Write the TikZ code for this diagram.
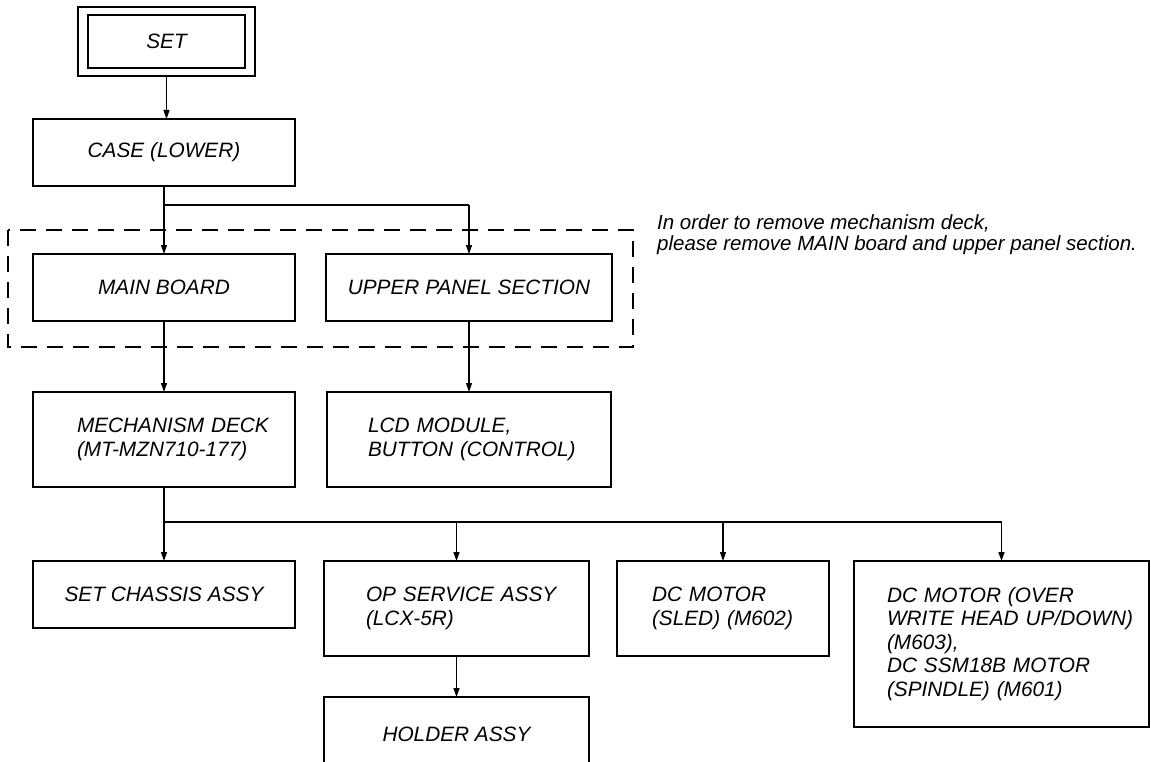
\documentclass[tikz,border=0pt]{standalone}
\usepackage{fontspec}
\setmainfont{Liberation Sans}
\usetikzlibrary{arrows.meta}
\begin{document}
\begin{tikzpicture}[x=1pt,y=-1pt,
  box/.style={draw, line width=1.2pt, rectangle, inner sep=0pt, outer sep=0pt,
    font=\fontsize{20.8}{23.5}\selectfont\itshape},
  cbox/.style 2 args={box, minimum width=#1, minimum height=#2},
  lbox/.style 2 args={box, text width=#1, minimum height=#2, align=left},
  arr/.style={line width=1.2pt, -{Triangle[length=9pt,width=6pt]}},
  trunk/.style={line width=1.8pt},
  frame/.style={line width=1.3pt, dash pattern=on 16pt off 10pt}]
\useasboundingbox (0,0) rectangle (1151,762);
\clip (0,0) rectangle (1151,762);
\fill[white] (0,0) rectangle (1151,762);

% boxes
\node[cbox={157pt}{53pt}] (set) at (166.5,41.5) {SET};
\draw[line width=1.2pt] ([shift={(-10,-8)}]set.north west) rectangle ([shift={(10,8)}]set.south east);
\node[cbox={262pt}{67pt}] (case) at (164,152.5) {CASE (LOWER)};
\node[cbox={262pt}{67pt}] (main) at (164,287.5) {MAIN BOARD};
\node[cbox={286pt}{67pt}] (upper) at (469,287.5) {UPPER PANEL SECTION};
\node[lbox={262pt}{95pt}] (mech) at (164,439.5)
  {\hspace*{44pt}MECHANISM DECK\\\hspace*{44pt}(MT-MZN710-177)};
\node[lbox={284pt}{95pt}] (lcd) at (469,439.5)
  {\hspace*{41pt}LCD MODULE,\\\hspace*{41pt}BUTTON (CONTROL)};
\node[cbox={262pt}{67pt}] (chassis) at (164,594.5) {SET CHASSIS ASSY};
\node[lbox={265pt}{95pt}] (op) at (456.5,608.5)
  {\hspace*{42pt}OP SERVICE ASSY\\\hspace*{42pt}(LCX-5R)};
\node[lbox={212pt}{95pt}] (sled) at (723,608.5)
  {\hspace*{35pt}DC MOTOR\\\hspace*{35pt}(SLED) (M602)\\[12pt]};
\node[lbox={295pt}{166pt}] (big) at (1001.5,644)
  {\hspace*{33pt}DC MOTOR (OVER\\\hspace*{33pt}WRITE HEAD UP/DOWN)\\\hspace*{33pt}(M603),\\\hspace*{33pt}DC SSM18B MOTOR\\\hspace*{33pt}(SPINDLE) (M601)};
\node[cbox={265pt}{74pt}] (holder) at (456.5,734) {HOLDER ASSY};

% dashed group frame
\draw[frame] (8,230) rectangle (633,347);

% note
\node[anchor=base west, align=left, inner sep=0pt, font=\fontsize{20.5}{21}\selectfont\itshape] (note) at (657,251)
  {In order to remove mechanism deck,\\please remove MAIN board and upper panel section.};

% connectors
\coordinate (j1) at (164,205);
\coordinate (j2) at (164,522);
\draw[arr] (set.south |- 0,76) -- (set.south |- case.north);
\draw[arr] (case.south) -- (main.north);
\draw[trunk] (j1) -- (j1 -| upper.north);
\draw[arr] (j1 -| upper.north) -- (upper.north);
\draw[arr] (main.south) -- (mech.north);
\draw[arr] (upper.south) -- (lcd.north);
\draw[line width=1.2pt] (mech.south) -- (j2);
\draw[trunk] (j2) -- (j2 -| big.north);
\draw[arr] (j2) -- (chassis.north);
\draw[arr] (j2 -| op.north) -- (op.north);
\draw[arr] (j2 -| sled.north) -- (sled.north);
\draw[arr,line width=1.6pt] (j2 -| big.north) -- (big.north);
\draw[arr] (op.south) -- (holder.north);
\end{tikzpicture}
\end{document}
